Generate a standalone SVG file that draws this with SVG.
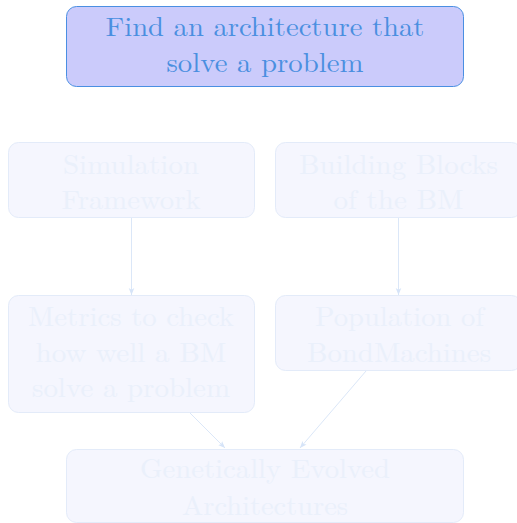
<svg xmlns="http://www.w3.org/2000/svg" width="517" height="523" viewBox="0 0 517 523">
  <style>
    text { font-family: "Latin Modern Roman", "Liberation Serif", "DejaVu Serif", serif; font-size: 27px; text-anchor: middle; }
    .main rect { fill: #cbcbfb; stroke: #4a8fe2; stroke-width: 1; }
    .main text { fill: #4a8fe0; }
    .faded rect { fill: #f5f6fe; stroke: #e3ebf9; stroke-width: 1; }
    .faded text { fill: #eaf0fb; }
    .edge { stroke: #dbe7f8; stroke-width: 1; fill: none; marker-end: url(#arr); }
  </style>
  <defs>
    <marker id="arr" viewBox="0 0 10 10" refX="10" refY="5" markerWidth="7" markerHeight="7" markerUnits="userSpaceOnUse" orient="auto">
      <path d="M0,1 L10,5 L0,9 L2.5,5 Z" fill="#d6e4f8"/>
    </marker>
  </defs>

  <g id="goal" class="main">
    <rect x="66.5" y="6.5" width="397" height="80" rx="10"/>
    <text x="265" y="36" textLength="319" lengthAdjust="spacingAndGlyphs">Find an architecture that</text>
    <text x="265" y="72" textLength="197" lengthAdjust="spacingAndGlyphs">solve a problem</text>
  </g>

  <g id="simulation" class="faded">
    <rect x="8.5" y="142.5" width="246" height="75" rx="10"/>
    <text x="131" y="174" textLength="136" lengthAdjust="spacingAndGlyphs">Simulation</text>
    <text x="131" y="209" textLength="139" lengthAdjust="spacingAndGlyphs">Framework</text>
  </g>

  <g id="blocks" class="faded">
    <rect x="275.5" y="142.5" width="246" height="75" rx="10"/>
    <text x="398.5" y="174" textLength="199" lengthAdjust="spacingAndGlyphs">Building Blocks</text>
    <text x="398.5" y="209" textLength="130" lengthAdjust="spacingAndGlyphs">of the BM</text>
  </g>

  <g id="metrics" class="faded">
    <rect x="8.5" y="295.5" width="246" height="117" rx="10"/>
    <text x="131" y="326" textLength="206" lengthAdjust="spacingAndGlyphs">Metrics to check</text>
    <text x="131" y="362" textLength="191" lengthAdjust="spacingAndGlyphs">how well a BM</text>
    <text x="131" y="397" textLength="198" lengthAdjust="spacingAndGlyphs">solve a problem</text>
  </g>

  <g id="population" class="faded">
    <rect x="275.5" y="295.5" width="246" height="75" rx="10"/>
    <text x="399.5" y="326" textLength="169" lengthAdjust="spacingAndGlyphs">Population of</text>
    <text x="399" y="362" textLength="184" lengthAdjust="spacingAndGlyphs">BondMachines</text>
  </g>

  <g id="evolved" class="faded">
    <rect x="66.5" y="449.5" width="397" height="73" rx="10"/>
    <text x="265" y="478" textLength="250" lengthAdjust="spacingAndGlyphs">Genetically Evolved</text>
    <text x="265" y="515" textLength="166" lengthAdjust="spacingAndGlyphs">Architectures</text>
  </g>

  <g id="connectors">
    <line class="edge" x1="131.5" y1="218" x2="131.5" y2="295"/>
    <line class="edge" x1="398.5" y1="218" x2="398.5" y2="295"/>
    <line class="edge" x1="190" y1="413" x2="225" y2="448"/>
    <line class="edge" x1="366" y1="371" x2="300" y2="448"/>
  </g>
</svg>
